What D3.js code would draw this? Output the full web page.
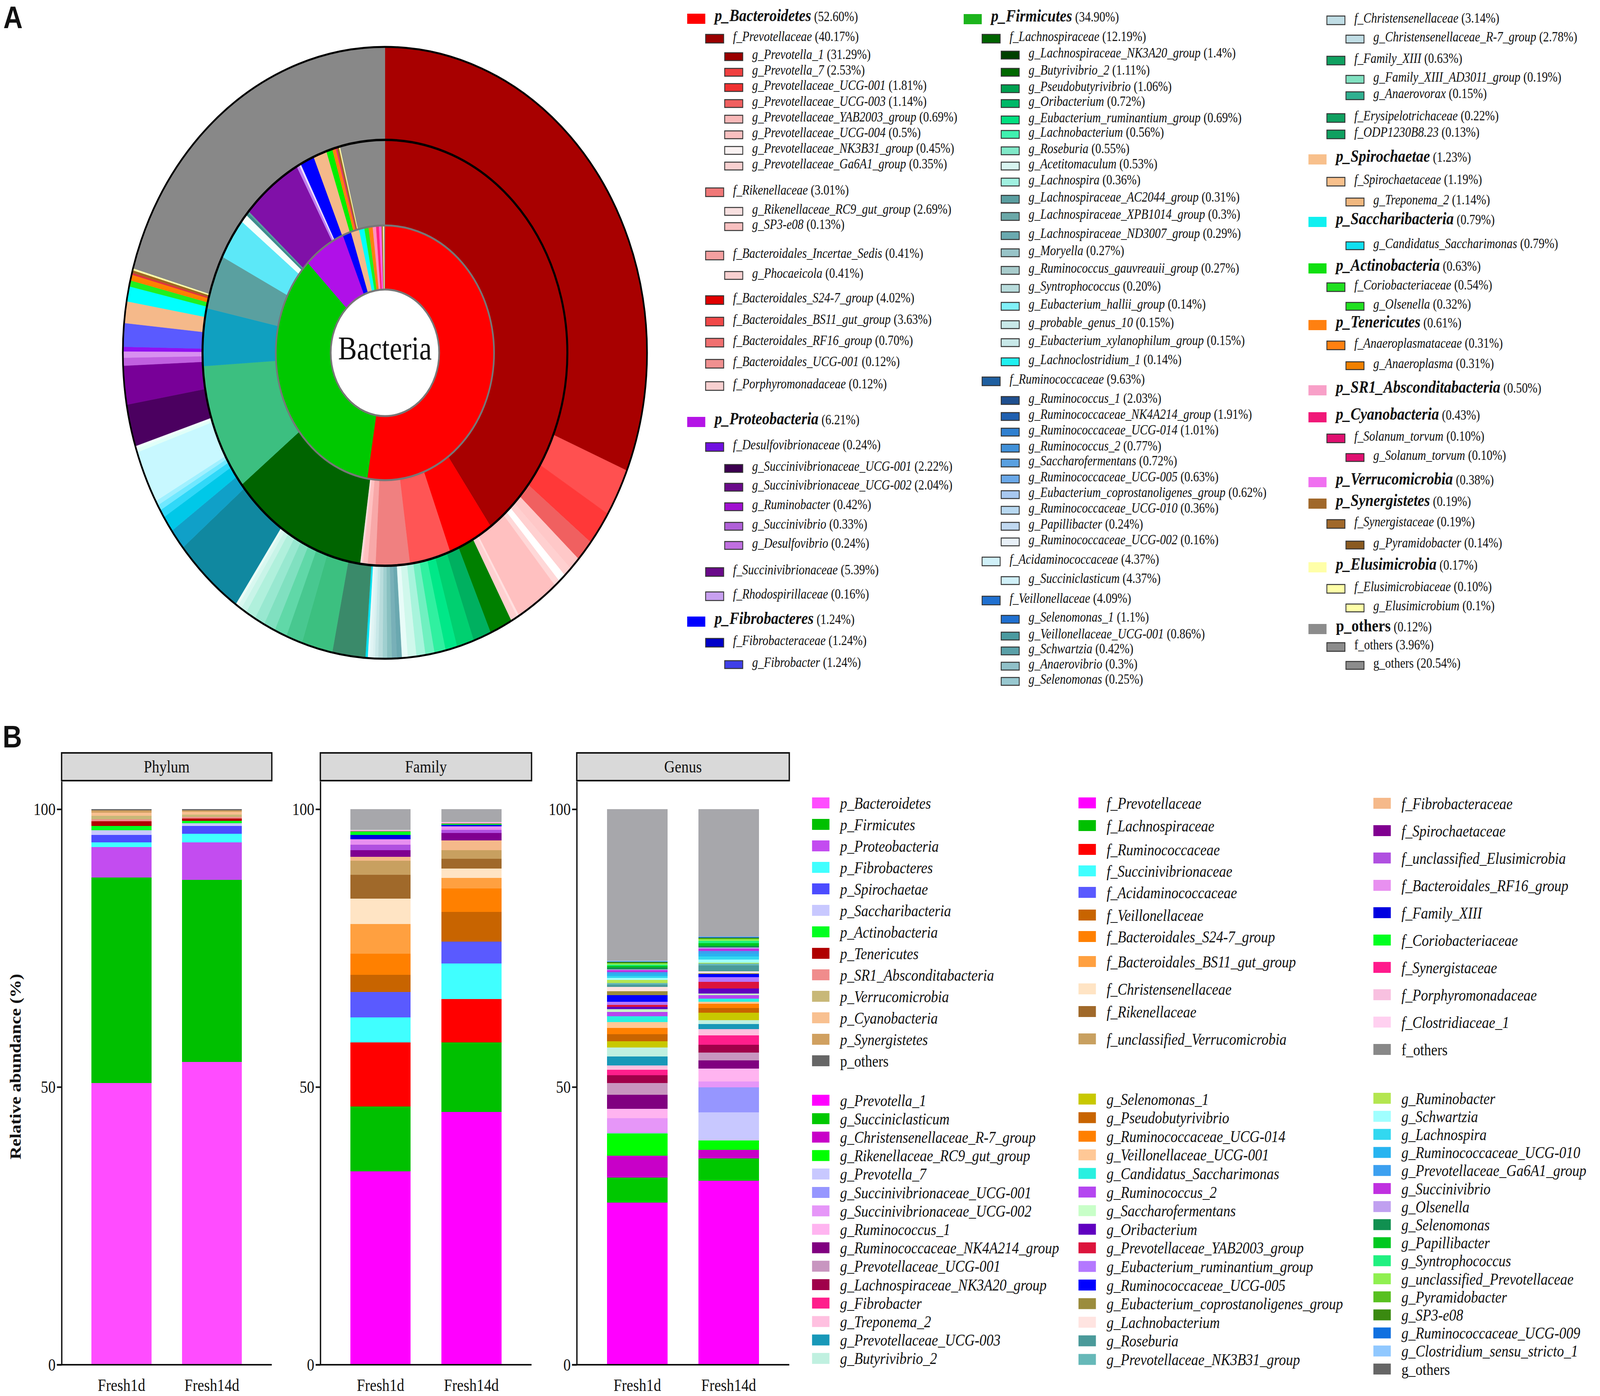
<!DOCTYPE html>
<html>
<head>
<meta charset="UTF-8">
<title>Bacterial composition</title>
<script src="https://d3js.org/d3.v7.min.js"></script>
<style>
  html, body { margin: 0; padding: 0; background: #fff; overflow: hidden; }
  #chart svg { display: block; width: 100vw; height: 100vh; }
  svg text { font-family: "Liberation Serif", "Times New Roman", serif; fill: #111; }
  .tag { font-family: "Liberation Sans", Arial, sans-serif; font-weight: bold; font-size: 80px; }
</style>
</head>
<body>
<div id="chart"></div>
<script>
// ---------------- panel A : sunburst data (relative abundance, %) ----------------
const phyla = [
  ["p_Bacteroidetes", "52.60"], ["p_Proteobacteria", "6.21"], ["p_Fibrobacteres", "1.24"],
  ["p_Firmicutes", "34.90"], ["p_Spirochaetae", "1.23"], ["p_Saccharibacteria", "0.79"],
  ["p_Actinobacteria", "0.63"], ["p_Tenericutes", "0.61"], ["p_SR1_Absconditabacteria", "0.50"],
  ["p_Cyanobacteria", "0.43"], ["p_Verrucomicrobia", "0.38"], ["p_Synergistetes", "0.19"],
  ["p_Elusimicrobia", "0.17"], ["p_others", "0.12"]
];
const families = [
  ["f_Prevotellaceae", "40.17", "p_Bacteroidetes"],
  ["f_Rikenellaceae", "3.01", "p_Bacteroidetes"],
  ["f_Bacteroidales_Incertae_Sedis", "0.41", "p_Bacteroidetes"],
  ["f_Bacteroidales_S24-7_group", "4.02", "p_Bacteroidetes"],
  ["f_Bacteroidales_BS11_gut_group", "3.63", "p_Bacteroidetes"],
  ["f_Bacteroidales_RF16_group", "0.70", "p_Bacteroidetes"],
  ["f_Bacteroidales_UCG-001", "0.12", "p_Bacteroidetes"],
  ["f_Porphyromonadaceae", "0.12", "p_Bacteroidetes"],
  ["f_Desulfovibrionaceae", "0.24", "p_Proteobacteria"],
  ["f_Succinivibrionaceae", "5.39", "p_Proteobacteria"],
  ["f_Rhodospirillaceae", "0.16", "p_Proteobacteria"],
  ["f_Fibrobacteraceae", "1.24", "p_Fibrobacteres"],
  ["f_Lachnospiraceae", "12.19", "p_Firmicutes"],
  ["f_Ruminococcaceae", "9.63", "p_Firmicutes"],
  ["f_Acidaminococcaceae", "4.37", "p_Firmicutes"],
  ["f_Veillonellaceae", "4.09", "p_Firmicutes"],
  ["f_Christensenellaceae", "3.14", "p_Firmicutes"],
  ["f_Family_XIII", "0.63", "p_Firmicutes"],
  ["f_Erysipelotrichaceae", "0.22", "p_Firmicutes"],
  ["f_ODP1230B8.23", "0.13", "p_Firmicutes"],
  ["f_Spirochaetaceae", "1.19", "p_Spirochaetae"],
  ["f_Coriobacteriaceae", "0.54", "p_Actinobacteria"],
  ["f_Anaeroplasmataceae", "0.31", "p_Tenericutes"],
  ["f_Solanum_torvum", "0.10", "p_Cyanobacteria"],
  ["f_Synergistaceae", "0.19", "p_Synergistetes"],
  ["f_Elusimicrobiaceae", "0.10", "p_Elusimicrobia"],
  ["f_others", "3.96", "p_others"]
];
const genera = [
  ["g_Prevotella_1", "31.29", "f_Prevotellaceae"],
  ["g_Prevotella_7", "2.53", "f_Prevotellaceae"],
  ["g_Prevotellaceae_UCG-001", "1.81", "f_Prevotellaceae"],
  ["g_Prevotellaceae_UCG-003", "1.14", "f_Prevotellaceae"],
  ["g_Prevotellaceae_YAB2003_group", "0.69", "f_Prevotellaceae"],
  ["g_Prevotellaceae_UCG-004", "0.5", "f_Prevotellaceae"],
  ["g_Prevotellaceae_NK3B31_group", "0.45", "f_Prevotellaceae"],
  ["g_Prevotellaceae_Ga6A1_group", "0.35", "f_Prevotellaceae"],
  ["g_Rikenellaceae_RC9_gut_group", "2.69", "f_Rikenellaceae"],
  ["g_SP3-e08", "0.13", "f_Rikenellaceae"],
  ["g_Phocaeicola", "0.41", "f_Bacteroidales_Incertae_Sedis"],
  ["g_Succinivibrionaceae_UCG-001", "2.22", "f_Desulfovibrionaceae"],
  ["g_Succinivibrionaceae_UCG-002", "2.04", "f_Desulfovibrionaceae"],
  ["g_Ruminobacter", "0.42", "f_Desulfovibrionaceae"],
  ["g_Succinivibrio", "0.33", "f_Desulfovibrionaceae"],
  ["g_Desulfovibrio", "0.24", "f_Desulfovibrionaceae"],
  ["g_Fibrobacter", "1.24", "f_Fibrobacteraceae"],
  ["g_Lachnospiraceae_NK3A20_group", "1.4", "f_Lachnospiraceae"],
  ["g_Butyrivibrio_2", "1.11", "f_Lachnospiraceae"],
  ["g_Pseudobutyrivibrio", "1.06", "f_Lachnospiraceae"],
  ["g_Oribacterium", "0.72", "f_Lachnospiraceae"],
  ["g_Eubacterium_ruminantium_group", "0.69", "f_Lachnospiraceae"],
  ["g_Lachnobacterium", "0.56", "f_Lachnospiraceae"],
  ["g_Roseburia", "0.55", "f_Lachnospiraceae"],
  ["g_Acetitomaculum", "0.53", "f_Lachnospiraceae"],
  ["g_Lachnospira", "0.36", "f_Lachnospiraceae"],
  ["g_Lachnospiraceae_AC2044_group", "0.31", "f_Lachnospiraceae"],
  ["g_Lachnospiraceae_XPB1014_group", "0.3", "f_Lachnospiraceae"],
  ["g_Lachnospiraceae_ND3007_group", "0.29", "f_Lachnospiraceae"],
  ["g_Moryella", "0.27", "f_Lachnospiraceae"],
  ["g_Ruminococcus_gauvreauii_group", "0.27", "f_Lachnospiraceae"],
  ["g_Syntrophococcus", "0.20", "f_Lachnospiraceae"],
  ["g_Eubacterium_hallii_group", "0.14", "f_Lachnospiraceae"],
  ["g_probable_genus_10", "0.15", "f_Lachnospiraceae"],
  ["g_Eubacterium_xylanophilum_group", "0.15", "f_Lachnospiraceae"],
  ["g_Lachnoclostridium_1", "0.14", "f_Lachnospiraceae"],
  ["g_Ruminococcus_1", "2.03", "f_Ruminococcaceae"],
  ["g_Ruminococcaceae_NK4A214_group", "1.91", "f_Ruminococcaceae"],
  ["g_Ruminococcaceae_UCG-014", "1.01", "f_Ruminococcaceae"],
  ["g_Ruminococcus_2", "0.77", "f_Ruminococcaceae"],
  ["g_Saccharofermentans", "0.72", "f_Ruminococcaceae"],
  ["g_Ruminococcaceae_UCG-005", "0.63", "f_Ruminococcaceae"],
  ["g_Eubacterium_coprostanoligenes_group", "0.62", "f_Ruminococcaceae"],
  ["g_Ruminococcaceae_UCG-010", "0.36", "f_Ruminococcaceae"],
  ["g_Papillibacter", "0.24", "f_Ruminococcaceae"],
  ["g_Ruminococcaceae_UCG-002", "0.16", "f_Ruminococcaceae"],
  ["g_Succiniclasticum", "4.37", "f_Acidaminococcaceae"],
  ["g_Selenomonas_1", "1.1", "f_Veillonellaceae"],
  ["g_Veillonellaceae_UCG-001", "0.86", "f_Veillonellaceae"],
  ["g_Schwartzia", "0.42", "f_Veillonellaceae"],
  ["g_Anaerovibrio", "0.3", "f_Veillonellaceae"],
  ["g_Selenomonas", "0.25", "f_Veillonellaceae"],
  ["g_Christensenellaceae_R-7_group", "2.78", "f_Christensenellaceae"],
  ["g_Family_XIII_AD3011_group", "0.19", "f_Family_XIII"],
  ["g_Anaerovorax", "0.15", "f_Family_XIII"],
  ["g_Treponema_2", "1.14", "f_Spirochaetaceae"],
  ["g_Candidatus_Saccharimonas", "0.79", "p_Saccharibacteria"],
  ["g_Olsenella", "0.32", "f_Coriobacteriaceae"],
  ["g_Anaeroplasma", "0.31", "f_Anaeroplasmataceae"],
  ["g_Solanum_torvum", "0.10", "f_Solanum_torvum"],
  ["g_Pyramidobacter", "0.14", "f_Synergistaceae"],
  ["g_Elusimicrobium", "0.1", "f_Elusimicrobiaceae"],
  ["g_others", "20.54", "f_others"]
];

// legend swatch colours of panel A
const swatchA = {
  "p_Bacteroidetes": "#ff0000", "p_Proteobacteria": "#b414e6", "p_Fibrobacteres": "#0000ff",
  "p_Firmicutes": "#1cb41c", "p_Spirochaetae": "#f8c08c", "p_Saccharibacteria": "#10f0f0",
  "p_Actinobacteria": "#10e010", "p_Tenericutes": "#ff8010", "p_SR1_Absconditabacteria": "#f8a0c8",
  "p_Cyanobacteria": "#f01878", "p_Verrucomicrobia": "#f070f0", "p_Synergistetes": "#a0682a",
  "p_Elusimicrobia": "#ffffa8", "p_others": "#8c8c8c",
  "f_Prevotellaceae": "#9a0000", "f_Rikenellaceae": "#f07878", "f_Bacteroidales_Incertae_Sedis": "#f4a0a0",
  "f_Bacteroidales_S24-7_group": "#e00000", "f_Bacteroidales_BS11_gut_group": "#f04848",
  "f_Bacteroidales_RF16_group": "#f07070", "f_Bacteroidales_UCG-001": "#f09090", "f_Porphyromonadaceae": "#f8d0d0",
  "f_Desulfovibrionaceae": "#7010e0", "f_Succinivibrionaceae": "#6a0a8a", "f_Rhodospirillaceae": "#c8a0f0",
  "f_Fibrobacteraceae": "#0000c8", "f_Lachnospiraceae": "#006400", "f_Ruminococcaceae": "#1f5fa0",
  "f_Acidaminococcaceae": "#d0f0f8", "f_Veillonellaceae": "#2070d0", "f_Christensenellaceae": "#c0dde5",
  "f_Family_XIII": "#10a060", "f_Erysipelotrichaceae": "#10a060", "f_ODP1230B8.23": "#10a060",
  "f_Spirochaetaceae": "#f8c08c", "f_Coriobacteriaceae": "#20e020", "f_Anaeroplasmataceae": "#ff8010",
  "f_Solanum_torvum": "#e01070", "f_Synergistaceae": "#a0682a", "f_Elusimicrobiaceae": "#ffffa8",
  "f_others": "#8c8c8c",
  "g_Prevotella_1": "#9a0000", "g_Prevotella_7": "#f04040", "g_Prevotellaceae_UCG-001": "#f03030",
  "g_Prevotellaceae_UCG-003": "#f06060", "g_Prevotellaceae_YAB2003_group": "#f8b8b8",
  "g_Prevotellaceae_UCG-004": "#f8c0c0", "g_Prevotellaceae_NK3B31_group": "#faf2f2",
  "g_Prevotellaceae_Ga6A1_group": "#f8d0d0", "g_Rikenellaceae_RC9_gut_group": "#f8e0e0",
  "g_SP3-e08": "#f8c0c0", "g_Phocaeicola": "#f8d0d0",
  "g_Succinivibrionaceae_UCG-001": "#3c0050", "g_Succinivibrionaceae_UCG-002": "#6a0a8a",
  "g_Ruminobacter": "#a010d0", "g_Succinivibrio": "#b060d8", "g_Desulfovibrio": "#c070e0",
  "g_Fibrobacter": "#4040e8",
  "g_Lachnospiraceae_NK3A20_group": "#004000", "g_Butyrivibrio_2": "#006800", "g_Pseudobutyrivibrio": "#00a050",
  "g_Oribacterium": "#00b868", "g_Eubacterium_ruminantium_group": "#00e080", "g_Lachnobacterium": "#40f0b0",
  "g_Roseburia": "#80e8c8", "g_Acetitomaculum": "#d8f4f0", "g_Lachnospira": "#a0f0e0",
  "g_Lachnospiraceae_AC2044_group": "#5a9ea0", "g_Lachnospiraceae_XPB1014_group": "#6aa8a8",
  "g_Lachnospiraceae_ND3007_group": "#6aaab0", "g_Moryella": "#98c4c8", "g_Ruminococcus_gauvreauii_group": "#a8cccc",
  "g_Syntrophococcus": "#b8dcdc", "g_Eubacterium_hallii_group": "#80f0f8", "g_probable_genus_10": "#c8e8e8",
  "g_Eubacterium_xylanophilum_group": "#c8e8e8", "g_Lachnoclostridium_1": "#20f0f0",
  "g_Ruminococcus_1": "#1f4f8f", "g_Ruminococcaceae_NK4A214_group": "#2060b0", "g_Ruminococcaceae_UCG-014": "#3080d0",
  "g_Ruminococcus_2": "#4090d8", "g_Saccharofermentans": "#5aa0e0", "g_Ruminococcaceae_UCG-005": "#6aa8e8",
  "g_Eubacterium_coprostanoligenes_group": "#a8c8f0", "g_Ruminococcaceae_UCG-010": "#b8d8f0",
  "g_Papillibacter": "#c0d8f0", "g_Ruminococcaceae_UCG-002": "#e8f0f8",
  "g_Succiniclasticum": "#d0f0f8", "g_Selenomonas_1": "#2070d0", "g_Veillonellaceae_UCG-001": "#4a9aa0",
  "g_Schwartzia": "#5aa0a8", "g_Anaerovibrio": "#90c0c8", "g_Selenomonas": "#98c8d0",
  "g_Christensenellaceae_R-7_group": "#c0dde5", "g_Family_XIII_AD3011_group": "#80e0c0", "g_Anaerovorax": "#30b090",
  "g_Treponema_2": "#f0b880", "g_Candidatus_Saccharimonas": "#10e0f0", "g_Olsenella": "#20e020",
  "g_Anaeroplasma": "#f08000", "g_Solanum_torvum": "#e01070", "g_Pyramidobacter": "#8a5a20",
  "g_Elusimicrobium": "#ffffa8", "g_others": "#8c8c8c"
};
// ring fills that differ from the legend swatch
const ringA = {
  "p_Firmicutes": "#00c800", "p_Proteobacteria": "#b010e8", "p_Spirochaetae": "#f5b98a",
  "p_Saccharibacteria": "#00ffff", "p_Actinobacteria": "#20f020", "p_SR1_Absconditabacteria": "#ff90c0",
  "p_Cyanobacteria": "#ff2080", "p_Verrucomicrobia": "#ff60f0", "p_others": "#888888",
  "f_Prevotellaceae": "#a80000", "f_Rikenellaceae": "#f08080", "f_Bacteroidales_Incertae_Sedis": "#ffc0c0",
  "f_Bacteroidales_S24-7_group": "#ff0000", "f_Bacteroidales_BS11_gut_group": "#ff5555",
  "f_Bacteroidales_RF16_group": "#f8a8a8", "f_Bacteroidales_UCG-001": "#ffd0d0", "f_Porphyromonadaceae": "#ffe0e0",
  "f_Desulfovibrionaceae": "#c080f0", "f_Succinivibrionaceae": "#8010a8", "f_Rhodospirillaceae": "#ece0ff",
  "f_Fibrobacteraceae": "#0000ff", "f_Ruminococcaceae": "#3cbf80", "f_Acidaminococcaceae": "#10a0c0",
  "f_Veillonellaceae": "#5aa0a0", "f_Christensenellaceae": "#5ce8f8", "f_Family_XIII": "#f4fffc",
  "f_Erysipelotrichaceae": "#3c8c8c", "f_ODP1230B8.23": "#5aa0a0", "f_Spirochaetaceae": "#f5b98a",
  "f_Coriobacteriaceae": "#00f000", "f_Solanum_torvum": "#f02080", "f_others": "#888888",
  "g_Prevotella_1": "#a80000", "g_Prevotella_7": "#ff5050", "g_Prevotellaceae_UCG-001": "#ff3838",
  "g_Prevotellaceae_YAB2003_group": "#ffc8c8", "g_Prevotellaceae_UCG-004": "#ffd0d0",
  "g_Prevotellaceae_NK3B31_group": "#ffffff", "g_Prevotellaceae_Ga6A1_group": "#ffd8d8",
  "g_Rikenellaceae_RC9_gut_group": "#ffc0c0", "g_SP3-e08": "#ffe0e0", "g_Phocaeicola": "#ffd0d0",
  "g_Succinivibrionaceae_UCG-001": "#4b0060", "g_Succinivibrionaceae_UCG-002": "#780098",
  "g_Ruminobacter": "#c060e0", "g_Succinivibrio": "#d890f0", "g_Desulfovibrio": "#9010f0",
  "g_Fibrobacter": "#5a5aff",
  "g_Lachnospiraceae_NK3A20_group": "#008000", "g_Butyrivibrio_2": "#00b060", "g_Pseudobutyrivibrio": "#00d070",
  "g_Oribacterium": "#00e888", "g_Eubacterium_ruminantium_group": "#30f0a0", "g_Lachnobacterium": "#70f0c0",
  "g_Roseburia": "#a8f4dc", "g_Acetitomaculum": "#d0f8ec", "g_Lachnospira": "#e8fcf8",
  "g_Lachnospiraceae_AC2044_group": "#6aa8b0", "g_Lachnospiraceae_XPB1014_group": "#78b0b8",
  "g_Lachnospiraceae_ND3007_group": "#88c0c0", "g_Moryella": "#a0d0d0", "g_Ruminococcus_gauvreauii_group": "#b8dcdc",
  "g_Syntrophococcus": "#c8e8e8", "g_Eubacterium_hallii_group": "#d8f0f0", "g_probable_genus_10": "#e0f4f4",
  "g_Eubacterium_xylanophilum_group": "#e8f8f8", "g_Lachnoclostridium_1": "#00e0f0",
  "g_Ruminococcus_1": "#3a8a6a", "g_Ruminococcaceae_NK4A214_group": "#3cc080", "g_Ruminococcaceae_UCG-014": "#48c890",
  "g_Ruminococcus_2": "#60d8a8", "g_Saccharofermentans": "#80e0c0", "g_Ruminococcaceae_UCG-005": "#98e8d0",
  "g_Eubacterium_coprostanoligenes_group": "#b0f0dc", "g_Ruminococcaceae_UCG-010": "#c8f4e8",
  "g_Papillibacter": "#d8f8f0", "g_Ruminococcaceae_UCG-002": "#eafcf6",
  "g_Succiniclasticum": "#1088a0", "g_Selenomonas_1": "#10a0c8", "g_Veillonellaceae_UCG-001": "#00c8e8",
  "g_Schwartzia": "#30d8f8", "g_Anaerovibrio": "#70e8ff", "g_Selenomonas": "#a0f0ff",
  "g_Christensenellaceae_R-7_group": "#c8f8ff", "g_Family_XIII_AD3011_group": "#e0fff8", "g_Anaerovorax": "#f0fffc",
  "g_Treponema_2": "#f5b98a", "g_Candidatus_Saccharimonas": "#00ffff", "g_Olsenella": "#20f020",
  "g_Anaeroplasma": "#ff8000", "g_Solanum_torvum": "#e03040", "g_Pyramidobacter": "#a06820",
  "g_others": "#888888"
};

// legend layout of panel A (column x, row centres)
const legendACols = [
  { x: 2053, rows: [
    ["p_Bacteroidetes", 48], ["f_Prevotellaceae", 99], ["g_Prevotella_1", 145], ["g_Prevotella_7", 185],
    ["g_Prevotellaceae_UCG-001", 224], ["g_Prevotellaceae_UCG-003", 265], ["g_Prevotellaceae_YAB2003_group", 305],
    ["g_Prevotellaceae_UCG-004", 345], ["g_Prevotellaceae_NK3B31_group", 385], ["g_Prevotellaceae_Ga6A1_group", 425],
    ["f_Rikenellaceae", 492], ["g_Rikenellaceae_RC9_gut_group", 541], ["g_SP3-e08", 580],
    ["f_Bacteroidales_Incertae_Sedis", 654], ["g_Phocaeicola", 705], ["f_Bacteroidales_S24-7_group", 768],
    ["f_Bacteroidales_BS11_gut_group", 823], ["f_Bacteroidales_RF16_group", 877], ["f_Bacteroidales_UCG-001", 931],
    ["f_Porphyromonadaceae", 988], ["p_Proteobacteria", 1080], ["f_Desulfovibrionaceae", 1144],
    ["g_Succinivibrionaceae_UCG-001", 1199], ["g_Succinivibrionaceae_UCG-002", 1247], ["g_Ruminobacter", 1297],
    ["g_Succinivibrio", 1347], ["g_Desulfovibrio", 1396], ["f_Succinivibrionaceae", 1464],
    ["f_Rhodospirillaceae", 1526], ["p_Fibrobacteres", 1591], ["f_Fibrobacteraceae", 1645], ["g_Fibrobacter", 1701]
  ]},
  { x: 2879, rows: [
    ["p_Firmicutes", 49], ["f_Lachnospiraceae", 99], ["g_Lachnospiraceae_NK3A20_group", 141], ["g_Butyrivibrio_2", 185],
    ["g_Pseudobutyrivibrio", 227], ["g_Oribacterium", 265], ["g_Eubacterium_ruminantium_group", 307],
    ["g_Lachnobacterium", 344], ["g_Roseburia", 386], ["g_Acetitomaculum", 425], ["g_Lachnospira", 466],
    ["g_Lachnospiraceae_AC2044_group", 510], ["g_Lachnospiraceae_XPB1014_group", 554],
    ["g_Lachnospiraceae_ND3007_group", 603], ["g_Moryella", 647], ["g_Ruminococcus_gauvreauii_group", 692],
    ["g_Syntrophococcus", 738], ["g_Eubacterium_hallii_group", 784], ["g_probable_genus_10", 831],
    ["g_Eubacterium_xylanophilum_group", 877], ["g_Lachnoclostridium_1", 926], ["f_Ruminococcaceae", 976],
    ["g_Ruminococcus_1", 1025], ["g_Ruminococcaceae_NK4A214_group", 1066], ["g_Ruminococcaceae_UCG-014", 1106],
    ["g_Ruminococcus_2", 1147], ["g_Saccharofermentans", 1185], ["g_Ruminococcaceae_UCG-005", 1226],
    ["g_Eubacterium_coprostanoligenes_group", 1266], ["g_Ruminococcaceae_UCG-010", 1306], ["g_Papillibacter", 1347],
    ["g_Ruminococcaceae_UCG-002", 1387], ["f_Acidaminococcaceae", 1437], ["g_Succiniclasticum", 1486],
    ["f_Veillonellaceae", 1537], ["g_Selenomonas_1", 1585], ["g_Veillonellaceae_UCG-001", 1628],
    ["g_Schwartzia", 1666], ["g_Anaerovibrio", 1705], ["g_Selenomonas", 1744]
  ]},
  { x: 3909, rows: [
    ["f_Christensenellaceae", 52], ["g_Christensenellaceae_R-7_group", 100], ["f_Family_XIII", 155],
    ["g_Family_XIII_AD3011_group", 203], ["g_Anaerovorax", 245], ["f_Erysipelotrichaceae", 302],
    ["f_ODP1230B8.23", 344], ["p_Spirochaetae", 408], ["f_Spirochaetaceae", 465], ["g_Treponema_2", 517],
    ["p_Saccharibacteria", 568], ["g_Candidatus_Saccharimonas", 629], ["p_Actinobacteria", 687],
    ["f_Coriobacteriaceae", 735], ["g_Olsenella", 784], ["p_Tenericutes", 832], ["f_Anaeroplasmataceae", 884],
    ["g_Anaeroplasma", 936], ["p_SR1_Absconditabacteria", 999], ["p_Cyanobacteria", 1068],
    ["f_Solanum_torvum", 1122], ["g_Solanum_torvum", 1171], ["p_Verrucomicrobia", 1234], ["p_Synergistetes", 1289],
    ["f_Synergistaceae", 1341], ["g_Pyramidobacter", 1395], ["p_Elusimicrobia", 1452], ["f_Elusimicrobiaceae", 1507],
    ["g_Elusimicrobium", 1556], ["p_others", 1610], ["f_others", 1656], ["g_others", 1703]
  ]}
];

// ---------------- panel B : stacked bars ----------------
const samples = ["Fresh1d", "Fresh14d"];

const phylumBNames = ["p_Bacteroidetes", "p_Firmicutes", "p_Proteobacteria", "p_Fibrobacteres", "p_Spirochaetae",
  "p_Saccharibacteria", "p_Actinobacteria", "p_Tenericutes", "p_SR1_Absconditabacteria", "p_Verrucomicrobia",
  "p_Cyanobacteria", "p_Synergistetes", "p_others"];
const phylumB1d = [50.7, 37.0, 5.5, 0.8, 1.4, 0.8, 0.8, 0.8, 0.4, 0.6, 0.6, 0.4, 0.2];
const phylumB14d = [54.5, 32.8, 6.7, 1.6, 1.4, 0.5, 0.4, 0.4, 0.3, 0.4, 0.5, 0.3, 0.2];
const phylumBColors = ["#ff4cff", "#00c000", "#c34cf0", "#40ffff", "#4c4cff", "#c8c8ff", "#00ff20", "#b00000",
  "#f08c8c", "#c8b878", "#f8c090", "#d0a060", "#606060"];

const familyBNames = ["f_Prevotellaceae", "f_Lachnospiraceae", "f_Ruminococcaceae", "f_Succinivibrionaceae",
  "f_Acidaminococcaceae", "f_Veillonellaceae", "f_Bacteroidales_S24-7_group", "f_Bacteroidales_BS11_gut_group",
  "f_Christensenellaceae", "f_Rikenellaceae", "f_unclassified_Verrucomicrobia", "f_Fibrobacteraceae",
  "f_Spirochaetaceae", "f_unclassified_Elusimicrobia", "f_Bacteroidales_RF16_group", "f_Family_XIII",
  "f_Coriobacteriaceae", "f_Synergistaceae", "f_Porphyromonadaceae", "f_Clostridiaceae_1", "f_others"];
const familyB1d = [34.8, 11.7, 11.5, 4.5, 4.6, 3.1, 3.8, 5.3, 4.6, 4.3, 2.5, 0.7, 1.2, 1.0, 1.0, 0.8, 0.6, 0.1, 0.1, 0.05, 3.75];
const familyB14d = [45.5, 12.5, 7.8, 6.4, 4.0, 5.3, 4.2, 1.9, 1.7, 1.75, 1.6, 1.7, 1.35, 0.55, 0.65, 0.3, 0.2, 0.1, 0.1, 0.1, 2.3];
const familyBColors = ["#ff00ff", "#00c000", "#ff0000", "#40ffff", "#5a5aff", "#c86400", "#ff8000", "#ffa040",
  "#ffe4c4", "#a0692a", "#c8a060", "#f5b98a", "#800090", "#b050e0", "#e890f0", "#0000e0", "#00ff20",
  "#ff1a8c", "#f8c0e0", "#ffd0f0", "#a7a7ab"];

const genusBNames = ["g_Prevotella_1", "g_Succiniclasticum", "g_Christensenellaceae_R-7_group",
  "g_Rikenellaceae_RC9_gut_group", "g_Prevotella_7", "g_Succinivibrionaceae_UCG-001", "g_Succinivibrionaceae_UCG-002",
  "g_Ruminococcus_1", "g_Ruminococcaceae_NK4A214_group", "g_Prevotellaceae_UCG-001", "g_Lachnospiraceae_NK3A20_group",
  "g_Fibrobacter", "g_Treponema_2", "g_Prevotellaceae_UCG-003", "g_Butyrivibrio_2",
  "g_Selenomonas_1", "g_Pseudobutyrivibrio", "g_Ruminococcaceae_UCG-014", "g_Veillonellaceae_UCG-001",
  "g_Candidatus_Saccharimonas", "g_Ruminococcus_2", "g_Saccharofermentans", "g_Oribacterium",
  "g_Prevotellaceae_YAB2003_group", "g_Eubacterium_ruminantium_group", "g_Ruminococcaceae_UCG-005",
  "g_Eubacterium_coprostanoligenes_group", "g_Lachnobacterium", "g_Roseburia", "g_Prevotellaceae_NK3B31_group",
  "g_Ruminobacter", "g_Schwartzia", "g_Lachnospira", "g_Ruminococcaceae_UCG-010", "g_Prevotellaceae_Ga6A1_group",
  "g_Succinivibrio", "g_Olsenella", "g_Selenomonas", "g_Papillibacter", "g_Syntrophococcus",
  "g_unclassified_Prevotellaceae", "g_Pyramidobacter", "g_SP3-e08", "g_Ruminococcaceae_UCG-009",
  "g_Clostridium_sensu_stricto_1", "g_others"];
const genusB1d = [29.2, 4.5, 3.9, 4.0, 0.1, 0.1, 2.6, 1.7, 2.5, 2.1, 1.4, 1.0, 0.8, 1.6, 1.6,
  1.1, 1.3, 1.1, 1.1, 1.0, 0.8, 0.5, 0.4, 0.4, 0.5, 1.2, 0.7, 0.8, 0.4, 0.3,
  0.6, 0.3, 0.4, 0.4, 0.3, 0.3, 0.2, 0.3, 0.3, 0.2, 0.2, 0.1, 0.2, 0.1, 0.1, 27.3];
const genusB14d = [33.1, 4.0, 1.6, 1.7, 5.0, 4.5, 1.1, 2.3, 1.5, 1.4, 1.4, 1.7, 1.1, 0.9, 0.7,
  1.4, 0.8, 0.8, 0.3, 0.6, 0.6, 0.3, 0.9, 1.2, 0.9, 0.5, 0.2, 0.3, 1.1, 0.3,
  0.2, 0.5, 0.6, 0.5, 0.5, 0.4, 0.2, 0.3, 0.5, 0.4, 0.3, 0.1, 0.2, 0.1, 0.1, 22.9];
const genusBColors = ["#ff00ff", "#00c800", "#c800c8", "#00ff00", "#c8c8ff", "#9696ff", "#e696f8", "#ffb4f0",
  "#800080", "#c896c0", "#a0004a", "#ff1e8c", "#ffc0e0", "#1898b8", "#c0f0e0",
  "#c8c800", "#c86400", "#ff8000", "#ffc896", "#28f0e0", "#b446f0", "#c8ffc8", "#6000c0", "#dc143c",
  "#b478ff", "#0000ff", "#9b8c3c", "#ffe4e1", "#4a9a9a", "#66b8b8",
  "#b4e650", "#a0ffff", "#32d8f0", "#28b4f0", "#3ca0f0", "#c030e0", "#c0a0f0", "#109050", "#00c820",
  "#20f080", "#90f050", "#58c020", "#3a8a10", "#1070e0", "#90c8ff", "#a7a7ab"];
const othersSwatchB = { "p_others": "#666666", "f_others": "#888888", "g_others": "#666666" };

// ---------------- drawing ----------------
// the drawing is laid out on a 4780 x 3573 canvas and stretched to the window
const W = 4780, H = 3573;
const svg = d3.select("#chart").append("svg")
  .attr("viewBox", `0 0 ${W} ${H}`)
  .attr("preserveAspectRatio", "none");
svg.append("rect").attr("width", W).attr("height", H).attr("fill", "#fff");

svg.append("text").attr("class", "tag").attr("x", 10).attr("y", 72).text("A");
svg.append("text").attr("class", "tag").attr("x", 8).attr("y", 1913).text("B");

// --- sunburst ---
const cx = 1150, cy = 903;
const rHole = 162, rInner = 326, rMid = 545, rOuter = 783;

const toItem = d => ({ name: d[0], v: +d[1], parent: d[2] });
const phyItems = phyla.map(toItem);
const famItems = families.map(toItem);
const genItems = genera.map(toItem);
const byValue = (a, b) => b.v - a.v;

// rings: phyla by abundance, families by abundance inside each phylum,
// genera follow their family (or phylum when no family is given)
const phyRing = phyItems.slice().sort(byValue);
const famRing = [], genRing = [];
phyRing.forEach(p => {
  const fams = famItems.filter(f => f.parent === p.name).sort(byValue);
  fams.forEach(f => {
    famRing.push(f);
    genItems.filter(g => g.parent === f.name).forEach(g => genRing.push(g));
  });
  genItems.filter(g => g.parent === p.name).forEach(g => genRing.push(g));
});

const fillA = name => ringA[name] || swatchA[name];
const sun = svg.append("g").attr("transform", `translate(${cx},${cy})`);
const pie = d3.pie().sort(null).value(d => d.v);

[[phyRing, rHole, rInner], [famRing, rInner, rMid], [genRing, rMid, rOuter]].forEach(([items, r0, r1]) => {
  const arc = d3.arc().innerRadius(r0).outerRadius(r1);
  sun.append("g").selectAll("path")
    .data(pie(items))
    .join("path")
    .attr("d", arc)
    .attr("fill", d => fillA(d.data.name))
    .attr("stroke", d => fillA(d.data.name))
    .attr("stroke-width", 0.8);
});
sun.append("circle").attr("r", rOuter).attr("fill", "none").attr("stroke", "#000").attr("stroke-width", 5);
sun.append("circle").attr("r", rMid).attr("fill", "none").attr("stroke", "#000").attr("stroke-width", 6);
sun.append("circle").attr("r", rInner).attr("fill", "none").attr("stroke", "#777").attr("stroke-width", 5);
sun.append("circle").attr("r", rHole).attr("fill", "#fff").attr("stroke", "#777").attr("stroke-width", 5);
sun.append("text").attr("text-anchor", "middle").attr("y", -12).attr("dy", "0.35em")
  .attr("font-size", 84).text("Bacteria");

// --- legend of panel A ---
const pctA = new Map([...phyla, ...families, ...genera].map(d => [d[0], d[1]]));
const legA = svg.append("g");
legendACols.forEach(col => {
  col.rows.forEach(([name, y]) => {
    const level = name[0];
    const sx = col.x + (level === "p" ? 0 : level === "f" ? 55 : 112);
    const sh = level === "p" ? 26 : level === "f" ? 22 : 20;
    legA.append("rect")
      .attr("x", sx).attr("y", y - sh / 2).attr("width", 54).attr("height", sh)
      .attr("fill", swatchA[name])
      .attr("stroke", level === "p" ? "none" : "#333").attr("stroke-width", 2.5);
    const t = legA.append("text").attr("x", sx + 82).attr("y", y).attr("dy", "0.35em");
    const upright = /_others$/.test(name);
    t.append("tspan").text(name)
      .attr("font-style", upright ? "normal" : "italic")
      .attr("font-weight", level === "p" ? "bold" : "normal")
      .attr("font-size", level === "p" ? 44 : 35);
    t.append("tspan").text(` (${pctA.get(name)}%)`)
      .attr("font-size", 35).attr("font-weight", "normal");
  });
});

// --- panel B bars ---
const yB = d3.scaleLinear().domain([0, 105]).range([3493, 2000]);
const panelsB = [
  { title: "Phylum", x0: 184, x1: 812, names: phylumBNames, vals: [phylumB1d, phylumB14d], colors: phylumBColors },
  { title: "Family", x0: 957, x1: 1588, names: familyBNames, vals: [familyB1d, familyB14d], colors: familyBColors },
  { title: "Genus", x0: 1723, x1: 2358, names: genusBNames, vals: [genusB1d, genusB14d], colors: genusBColors }
];

panelsB.forEach(p => {
  const g = svg.append("g");
  const x = d3.scaleBand().domain(samples).range([p.x0, p.x1]).paddingInner(0.337).paddingOuter(0.331);
  const rows = samples.map((s, i) => {
    const r = { sample: s };
    p.names.forEach((n, j) => { r[n] = p.vals[i][j]; });
    return r;
  });
  const series = d3.stack().keys(p.names)(rows);
  g.selectAll("g.layer").data(series).join("g")
    .attr("class", "layer")
    .attr("fill", (d, i) => p.colors[i])
    .selectAll("rect").data(d => d).join("rect")
    .attr("x", d => x(d.data.sample))
    .attr("width", x.bandwidth())
    .attr("y", d => yB(d[1]))
    .attr("height", d => yB(d[0]) - yB(d[1]))
    .attr("shape-rendering", "crispEdges");

  // facet strip
  g.append("rect").attr("x", p.x0).attr("y", 1927).attr("width", p.x1 - p.x0).attr("height", 71)
    .attr("fill", "#d9d9d9").attr("stroke", "#111").attr("stroke-width", 4);
  g.append("text").attr("x", (p.x0 + p.x1) / 2).attr("y", 1962).attr("dy", "0.35em")
    .attr("text-anchor", "middle").attr("font-size", 44).text(p.title);

  const ya = g.append("g").attr("transform", `translate(${p.x0},0)`)
    .call(d3.axisLeft(yB).tickValues([0, 50, 100]).tickSize(14).tickSizeOuter(0).tickPadding(4));
  const xa = g.append("g").attr("transform", `translate(0,${yB(0)})`)
    .call(d3.axisBottom(x).tickSize(0).tickSizeOuter(0).tickPadding(36));
  [ya, xa].forEach(a => {
    a.attr("font-family", "Liberation Serif, serif").attr("font-size", 44);
    a.selectAll("path, line").attr("stroke", "#111").attr("stroke-width", 4);
    a.selectAll("text").attr("fill", "#111");
  });
  xa.select(".domain").attr("d", `M${p.x0 - 14},0H${p.x1}`);
});

svg.append("text")
  .attr("transform", "translate(46,2730) rotate(-90)")
  .attr("text-anchor", "middle").attr("dy", "0.35em")
  .attr("font-size", 46).attr("font-weight", "bold")
  .text("Relative abundance (%)");

// --- legends of panel B ---
function legendB(names, colors, x, ys) {
  const lg = svg.append("g");
  names.forEach((n, i) => {
    lg.append("rect").attr("x", x).attr("y", ys[i] - 14).attr("width", 52).attr("height", 28)
      .attr("fill", othersSwatchB[n] || colors[i]);
    lg.append("text").attr("x", x + 84).attr("y", ys[i]).attr("dy", "0.35em")
      .attr("font-size", 42)
      .attr("font-style", /_others$/.test(n) ? "normal" : "italic")
      .text(n);
  });
}
const stepRows = (y0, step, n) => d3.range(n).map(i => y0 + step * i);
legendB(phylumBNames, phylumBColors, 2426, stepRows(2055, 55, 13));
legendB(familyBNames.slice(0, 11), familyBColors.slice(0, 11), 3222,
  [2055, 2113, 2174, 2229, 2284, 2342, 2397, 2461, 2531, 2589, 2659]);
legendB(familyBNames.slice(11), familyBColors.slice(11), 4103, stepRows(2056, 70, 10));
legendB(genusBNames.slice(0, 15), genusBColors.slice(0, 15), 2426, stepRows(2816, 47.2, 15));
legendB(genusBNames.slice(15, 30), genusBColors.slice(15, 30), 3222, stepRows(2813, 47.6, 15));
legendB(genusBNames.slice(30), genusBColors.slice(30), 4103, stepRows(2811, 46.2, 16));
</script>
</body>
</html>
